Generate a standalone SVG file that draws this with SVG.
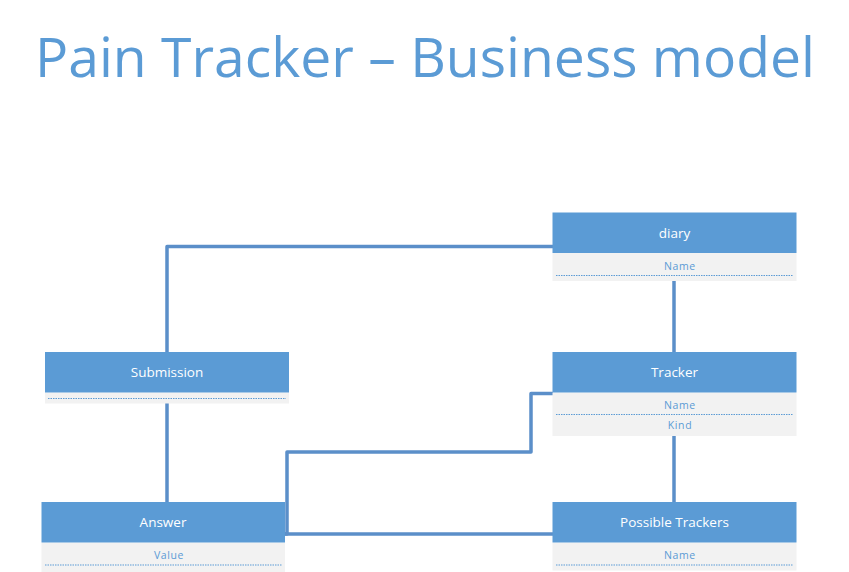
<svg xmlns="http://www.w3.org/2000/svg" width="849" height="572" viewBox="0 0 849 572">
<style>
.hdr{fill:#5b9bd5}
.att{fill:#f2f2f2}
.ht{font-family:"Open Sans","Noto Sans",sans-serif;font-size:13.5px;fill:#ffffff;text-anchor:middle}
.at{font-family:"Open Sans","Noto Sans",sans-serif;font-size:10.5px;fill:#5b9bd5;text-anchor:middle;letter-spacing:0.6px}
.dot{stroke:#5b9bd5;stroke-width:1;stroke-dasharray:1.5 1}
.con{fill:none;stroke:#5b8fc9;stroke-width:3.5;stroke-linejoin:round}
.title{font-family:"Open Sans","Noto Sans",sans-serif;font-size:55px;fill:#5b9bd5}
</style>
<rect width="849" height="572" fill="#ffffff"/>
<text class="title" x="35" y="77" textLength="780" lengthAdjust="spacingAndGlyphs">Pain Tracker – Business model</text>
<g id="connectors">
<path class="con" d="M167,352 V246.5 H553"/>
<path class="con" d="M167,403 V502"/>
<path class="con" d="M674,276 V352"/>
<path class="con" d="M674,436 V502"/>
<path class="con" d="M285,534 H287 V452 H531 V393.5 H553"/>
<path class="con" d="M285,534 H553"/>
</g>
<g id="diary">
<rect class="att" x="552.5" y="253" width="244" height="28"/>
<rect class="hdr" x="552.5" y="212.5" width="244" height="40.5"/>
<text class="ht" x="674.5" y="237.5">diary</text>
<text class="at" x="680" y="270">Name</text>
<line class="dot" x1="556" y1="275.5" x2="793" y2="275.5"/>
</g>
<g id="tracker">
<rect class="att" x="552.5" y="392.5" width="244" height="43.5"/>
<rect class="hdr" x="552.5" y="352" width="244" height="40.5"/>
<text class="ht" x="674.5" y="377">Tracker</text>
<text class="at" x="680" y="409">Name</text>
<line class="dot" x1="556" y1="414.5" x2="793" y2="414.5"/>
<text class="at" x="680" y="429">Kind</text>
</g>
<g id="submission">
<rect class="att" x="45" y="392.5" width="244" height="11"/>
<rect class="hdr" x="45" y="352" width="244" height="40.5"/>
<text class="ht" x="167" y="377">Submission</text>
<line class="dot" x1="48" y1="398.5" x2="286" y2="398.5"/>
</g>
<g id="answer">
<rect class="att" x="41.5" y="542.5" width="243.5" height="29.5"/>
<rect class="hdr" x="41.5" y="502" width="243.5" height="40.5"/>
<text class="ht" x="163" y="527">Answer</text>
<text class="at" x="169" y="558.5">Value</text>
<line class="dot" x1="45" y1="565" x2="282" y2="565"/>
</g>
<g id="possible-trackers">
<rect class="att" x="552.5" y="542.5" width="244" height="28"/>
<rect class="hdr" x="552.5" y="502" width="244" height="40.5"/>
<text class="ht" x="674.5" y="527">Possible Trackers</text>
<text class="at" x="680" y="558.5">Name</text>
<line class="dot" x1="556" y1="565" x2="793" y2="565"/>
</g>
</svg>
